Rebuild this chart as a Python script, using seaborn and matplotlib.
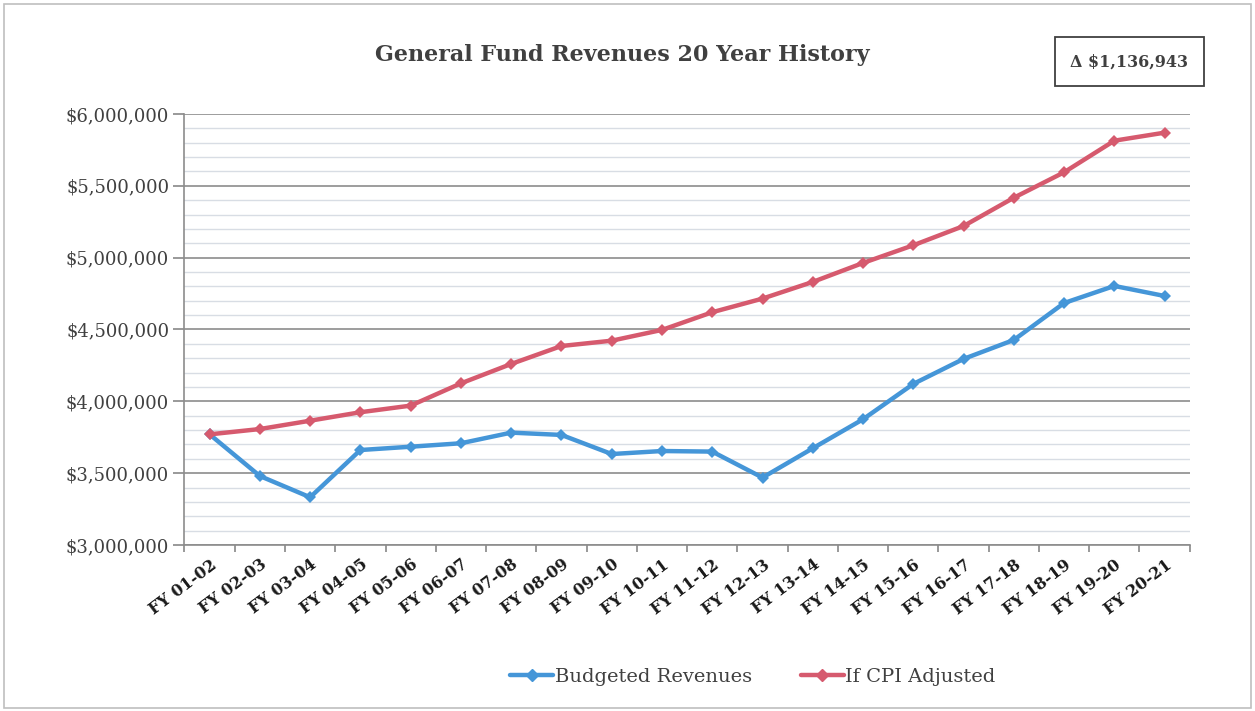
import numpy as np
import pandas as pd
import seaborn as sns
import matplotlib.pyplot as plt
from matplotlib.ticker import MultipleLocator, FuncFormatter
from matplotlib.lines import Line2D
from matplotlib.patches import Rectangle

# ---------------------- Data ------------------------
years = ["FY 01-02", "FY 02-03", "FY 03-04", "FY 04-05", "FY 05-06",
         "FY 06-07", "FY 07-08", "FY 08-09", "FY 09-10", "FY 10-11",
         "FY 11-12", "FY 12-13", "FY 13-14", "FY 14-15", "FY 15-16",
         "FY 16-17", "FY 17-18", "FY 18-19", "FY 19-20", "FY 20-21"]

budgeted = [3770000, 3480000, 3332000, 3661000, 3684000,
            3708000, 3782000, 3766000, 3633000, 3654000,
            3650000, 3469000, 3673000, 3875000, 4121000,
            4295000, 4427000, 4684000, 4803000, 4733000]

cpi_adjusted = [3770000, 3807000, 3865000, 3924000, 3970000,
                4125000, 4260000, 4385000, 4422000, 4497000,
                4620000, 4715000, 4831000, 4963000, 5086000,
                5220000, 5417000, 5594000, 5814000, 5870000]

series_names = ["Budgeted Revenues", "If CPI Adjusted"]
delta_label = "\u0394 $1,136,943"

df = pd.DataFrame({
    "pos": list(range(len(years))) * 2,
    "value": budgeted + cpi_adjusted,
    "series": [series_names[0]] * len(years) + [series_names[1]] * len(years),
})

# ---------------------- Style ------------------------
sns.set_theme(style="white")
plt.rcParams["font.family"] = ["DejaVu Serif"]
text_col = "#404040"
colors = {series_names[0]: "#4596d8", series_names[1]: "#d65a6e"}

fig = plt.figure(figsize=(12.55, 7.11), dpi=100)
ax = fig.add_axes([0.147, 0.2335, 0.801, 0.6062])

sns.lineplot(data=df, x="pos", y="value", hue="series", palette=colors,
             marker="D", markersize=6, markeredgewidth=0, linewidth=3.2,
             legend=False, ax=ax)

# ---------------------- Axes ------------------------
ax.set_ylim(3000000, 6000000)
ax.set_xlim(-0.5, len(years) - 0.5)
ax.yaxis.set_major_locator(MultipleLocator(500000))
ax.yaxis.set_minor_locator(MultipleLocator(100000))
ax.yaxis.set_major_formatter(FuncFormatter(lambda v, p: f"${v:,.0f}"))
ax.grid(which="major", axis="y", color="#8c8c8c", linewidth=1.2)
ax.grid(which="minor", axis="y", color="#d8dde4", linewidth=1.0)
ax.set_axisbelow(True)

ax.set_xticks(np.arange(-0.5, len(years), 1.0))
ax.set_xticklabels([])
ax.set_xticks(np.arange(len(years)), minor=True)
ax.set_xticklabels(years, minor=True, rotation=37, ha="right",
                   rotation_mode="anchor", fontsize=11.5, fontweight="bold",
                   color="#1a1a1a")
ax.tick_params(axis="x", which="major", direction="out", length=5,
               color="#8c8c8c", bottom=True)
ax.tick_params(axis="x", which="minor", length=0, pad=8)
ax.tick_params(axis="y", which="major", direction="out", length=8,
               color="#8c8c8c", left=True, labelsize=13, labelcolor=text_col, pad=3)
ax.tick_params(axis="y", which="minor", length=0)

for s in ["top", "right"]:
    ax.spines[s].set_visible(False)
for s in ["left", "bottom"]:
    ax.spines[s].set_color("#8c8c8c")
    ax.spines[s].set_linewidth(1.2)

ax.set_xlabel("")
ax.set_ylabel("")

# ---------------------- Title, box, legend ------------------------
fig.text(0.496, 0.922, "General Fund Revenues 20 Year History", ha="center",
         va="center", fontsize=16, fontweight="bold", color=text_col)

fig.text(0.9, 0.913, delta_label, ha="center", va="center", fontsize=11.5,
         fontweight="bold", color=text_col,
         bbox=dict(boxstyle="square,pad=1.0", facecolor="white",
                   edgecolor="#404040", linewidth=1.3))

handles = [Line2D([0], [0], color=colors[n], linewidth=3.2, marker="D",
                  markersize=6) for n in series_names]
fig.legend(handles, series_names, loc="center", bbox_to_anchor=(0.6, 0.048),
           ncol=2, frameon=False, fontsize=14, handlelength=2.2,
           handletextpad=0.1, columnspacing=2.5, labelcolor=text_col)

# outer frame
fig.patches.append(Rectangle((0.003, 0.004), 0.994, 0.99, transform=fig.transFigure,
                             fill=False, edgecolor="#bfbfbf", linewidth=1.2))

fig.savefig("out.png", dpi=100)
